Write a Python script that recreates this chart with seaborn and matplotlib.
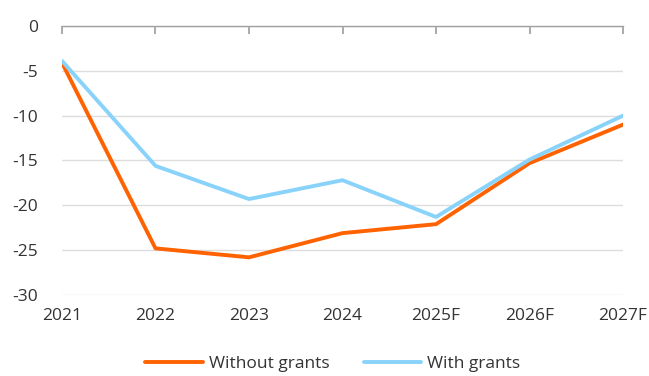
import matplotlib
matplotlib.use("Agg")
import matplotlib.pyplot as plt
import seaborn as sns
import pandas as pd

years = ["2021", "2022", "2023", "2024", "2025F", "2026F", "2027F"]
without_grants = [-4.1, -24.8, -25.8, -23.1, -22.1, -15.3, -11.0]
with_grants = [-3.9, -15.6, -19.3, -17.2, -21.3, -14.9, -10.0]
y_ticks = [0, -5, -10, -15, -20, -25, -30]

df = pd.DataFrame({
    "year": years * 2,
    "value": without_grants + with_grants,
    "series": ["Without grants"] * len(years) + ["With grants"] * len(years),
})

sns.set_theme(style="white")
plt.rcParams["font.family"] = ["Open Sans", "DejaVu Sans"]
text_color = "#333333"
fs = 12.5

fig = plt.figure(figsize=(6.49, 3.76), dpi=100)
ax = fig.add_axes([0.0955, 0.2154, 0.8645, 0.7156])

sns.lineplot(
    data=df, x="year", y="value", hue="series",
    palette={"Without grants": "#FF6200", "With grants": "#89D3FB"},
    linewidth=2.8, ax=ax, sort=False,
)

ax.set_ylim(-30, 0)
ax.set_xlim(0, len(years) - 1)
ax.set_yticks(y_ticks)
ax.set_yticklabels([str(v) for v in y_ticks])
ax.set_xlabel("")
ax.set_ylabel("")

ax.yaxis.grid(True, color="#dddddd", linewidth=1)
ax.set_axisbelow(True)
for side in ["left", "right", "bottom"]:
    ax.spines[side].set_visible(False)
ax.spines["top"].set_color("#a0a0a0")
ax.spines["top"].set_linewidth(1)

ax.tick_params(axis="x", top=True, bottom=False, labeltop=False, labelbottom=True,
               direction="in", length=6, color="#a0a0a0", labelsize=fs,
               labelcolor=text_color, pad=9)
ax.tick_params(axis="y", left=False, labelsize=fs, labelcolor=text_color, pad=11)

handles, labels = ax.get_legend_handles_labels()
ax.legend(handles, labels, loc="lower center", bbox_to_anchor=(0.483, -0.313),
          ncol=2, frameon=False, fontsize=fs, labelcolor=text_color,
          handlelength=3.3, columnspacing=2.0, handletextpad=0.35,
          borderaxespad=0)

fig.savefig("out.png", dpi=100)
